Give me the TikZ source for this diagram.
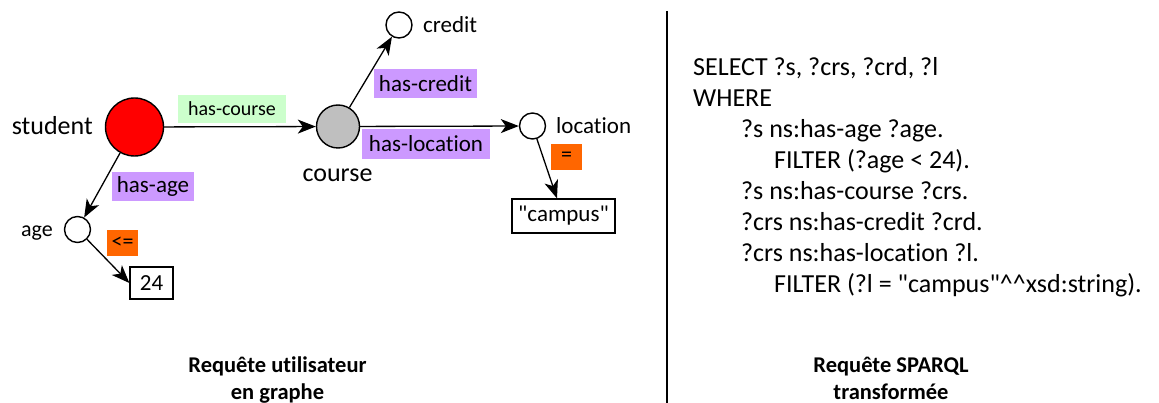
\documentclass[tikz,border=0pt]{standalone}
\usepackage{fontspec}
\setmainfont{Carlito}[Ligatures={TeXOff,NoCommon}]
\usetikzlibrary{arrows.meta,calc}
\definecolor{nodered}{HTML}{FF0000}
\definecolor{nodegray}{HTML}{BFBFBF}
\definecolor{lblgreen}{HTML}{CCFFCC}
\definecolor{lblpurple}{HTML}{CC99FF}
\definecolor{lblorange}{HTML}{FF6600}
\newcommand{\fsz}[1]{\fontsize{#1}{#1}\selectfont}
\begin{document}
\begin{tikzpicture}[x=1pt,y=-1pt,
  vertex/.style={circle,draw=black,line width=1.4pt,inner sep=0pt},
  smallvertex/.style={vertex,fill=white,minimum size=26pt},
  valbox/.style={draw=black,line width=1.2pt,fill=white,inner sep=0pt,font=\fsz{23}},
  plabel/.style={fill=lblpurple,inner sep=0pt,font=\fsz{23}},
  olabel/.style={fill=lblorange,inner sep=0pt,font=\fsz{22},minimum width=31pt,minimum height=26pt},
  nlabel/.style={inner sep=0pt},
  edge/.style={line width=1.3pt,-{Stealth[length=18pt,width=14pt,inset=5pt]}},
  code/.style={inner sep=0pt,anchor=base west,font=\fsz{26}},
  caption/.style={inner sep=0pt,anchor=base,font=\fsz{22.5}\bfseries}]
\useasboundingbox (0,0) rectangle (1159,403);
% nodes
\node[vertex,fill=nodered,minimum size=58pt] (student) at (134.5,127) {};
\node[vertex,fill=nodegray,minimum size=43pt] (course) at (338,126.5) {};
\node[smallvertex] (credit) at (399,25) {};
\node[smallvertex] (location) at (532.5,126) {};
\node[smallvertex] (age) at (77.5,229.5) {};
\node[valbox,minimum width=103pt,minimum height=34pt] (campus) at (563.5,216) {"campus"};
\node[valbox,minimum width=43pt,minimum height=32pt] (b24) at (151.5,283) {24};
% node names
\node[nlabel,anchor=base east,font=\fsz{26}] (tstudent) at (93,135) {student};
\node[nlabel,anchor=base,font=\fsz{26}] (tcourse) at (337.5,182) {course};
\node[nlabel,anchor=base west,font=\fsz{23}] (tcredit) at (423,32.5) {credit};
\node[nlabel,anchor=base west,font=\fsz{23}] (tlocation) at (556,134) {location};
\node[nlabel,anchor=base east,font=\fsz{22}] (tage) at (53,237) {age};
% edges
\draw[edge] (student) -- (course);
\draw[edge] (course) -- (credit);
\draw[edge] (course) -- (location);
\draw[edge] (location) -- ([xshift=-6.5pt]campus.north);
\draw[edge] (student) -- (age);
\draw[edge] (age) -- (b24.west);
% edge labels
\node[fill=lblgreen,inner sep=0pt,font=\fsz{20},minimum width=108pt,minimum height=28pt] (lcourse) at (232,109) {has-course};
\node[plabel,minimum width=103pt,minimum height=29pt] (lcredit) at (425.5,83.5) {has-credit};
\node[plabel,minimum width=128pt,minimum height=30pt] (llocation) at (426,144) {has-location};
\node[plabel,minimum width=82pt,minimum height=29pt] (lage) at (153,186.5) {has-age};
\node[olabel] (leq) at (566.5,157) {=};
\node[olabel] (lle) at (122.5,243) {<=};
% separator
\coordinate (septop) at (667,11);
\coordinate (sepbot) at (667,403);
\draw[line width=2.5pt] (septop) -- (sepbot);
% SPARQL
\node[code] (q1) at (693,76) {SELECT ?s, ?crs, ?crd, ?l};
\node[code] (q2) at (693,107) {WHERE};
\node[code] (q3) at (741,138) {?s ns:has-age ?age.};
\node[code] (q4) at (774,169) {FILTER (?age < 24).};
\node[code] (q5) at (741,200) {?s ns:has-course ?crs.};
\node[code] (q6) at (741,231) {?crs ns:has-credit ?crd.};
\node[code] (q7) at (741,262) {?crs ns:has-location ?l.};
\node[code] (q8) at (774,293) {FILTER (?l = "campus"\^{}\^{}xsd:string).};
% captions
\node[caption] (c1) at (277.5,372) {Requête utilisateur};
\node[caption] (c2) at (277.5,399) {en graphe};
\node[caption] (c3) at (891,372) {Requête SPARQL};
\node[caption] (c4) at (891,399) {transformée};
\end{tikzpicture}
\end{document}
